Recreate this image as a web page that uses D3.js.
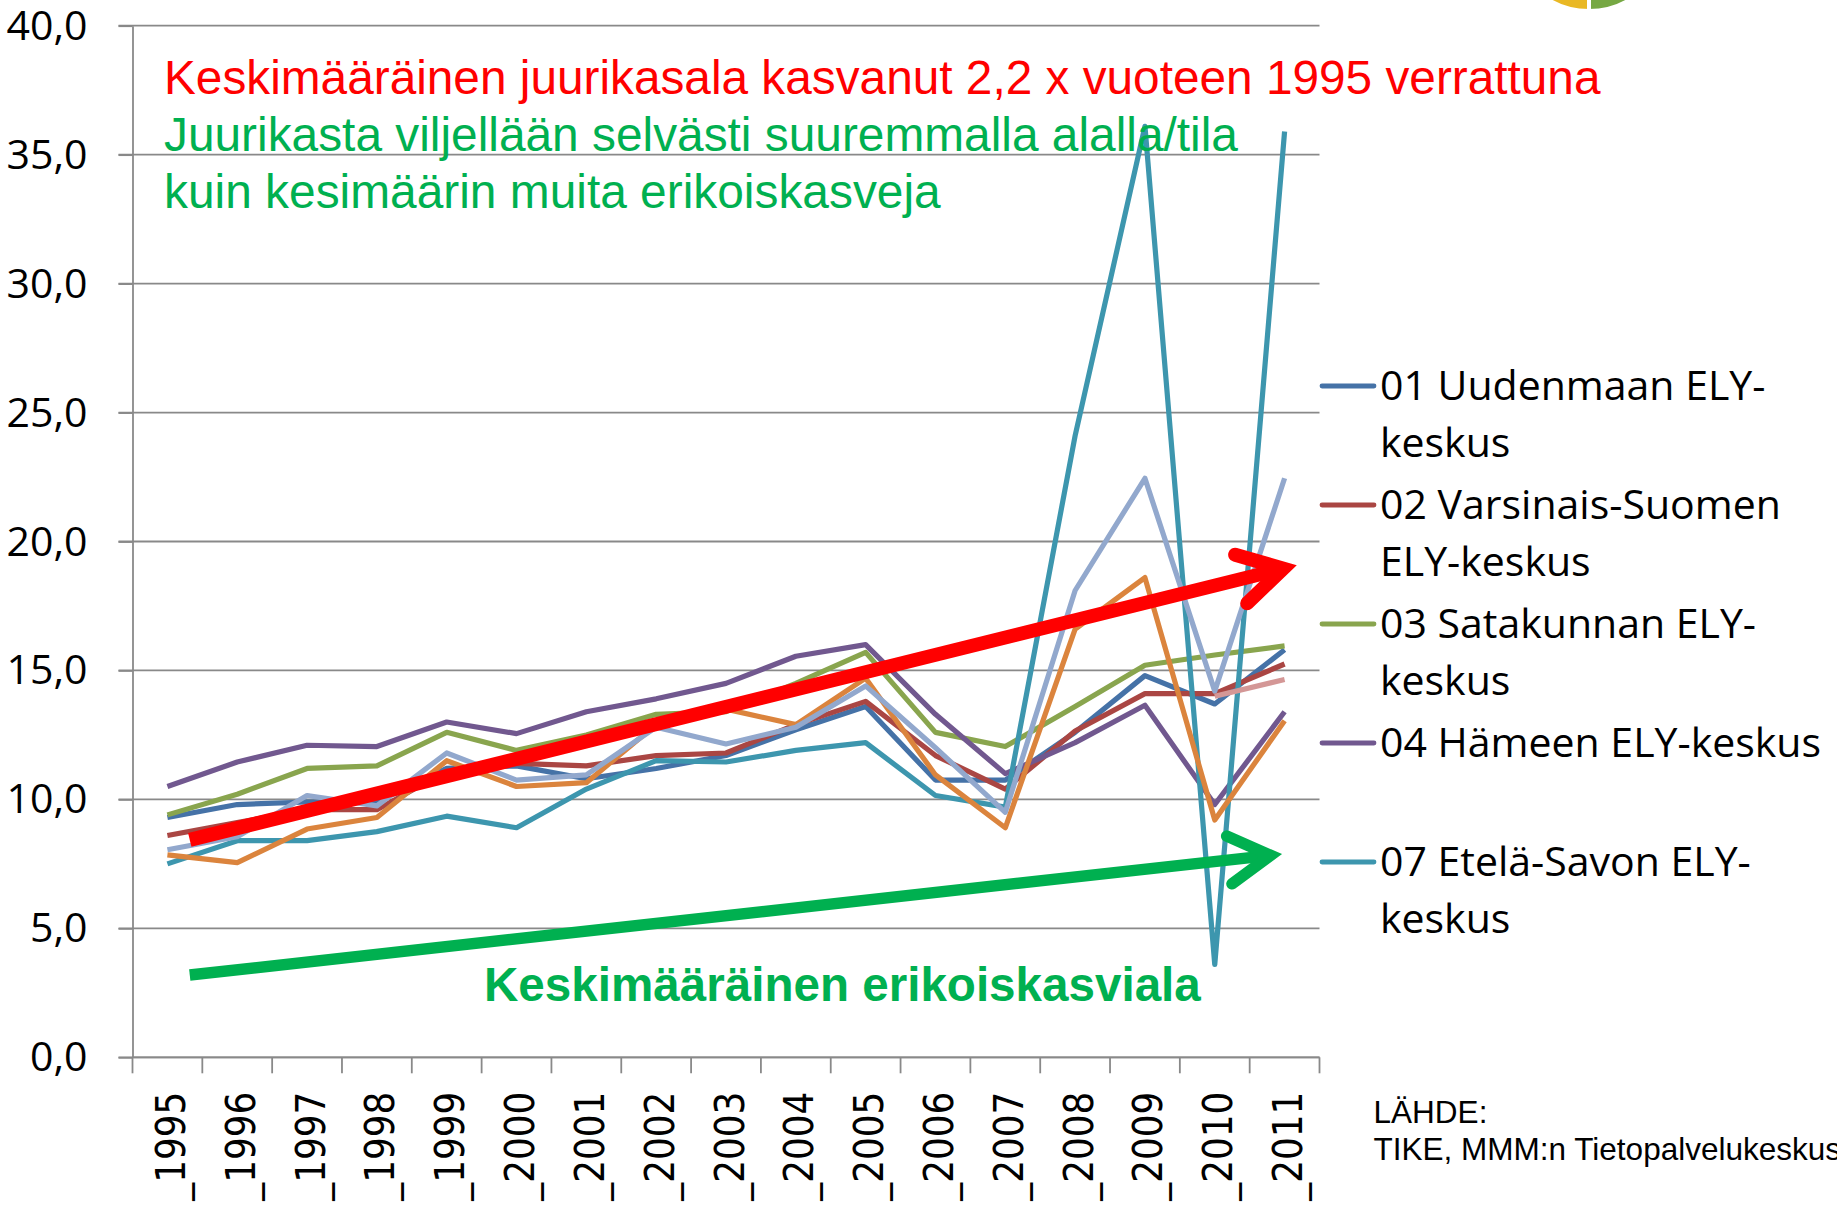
<!DOCTYPE html>
<html>
<head>
<meta charset="utf-8">
<script src="https://cdn.jsdelivr.net/npm/d3@7"></script>
<style>
  body { margin: 0; background: #fff; }
  svg { display: block; }
</style>
</head>
<body>
<div id="chart"></div>
<script>
/* Categories. */
const years = ["1995", "1996", "1997", "1998", "1999", "2000", "2001", "2002", "2003",
  "2004", "2005", "2006", "2007", "2008", "2009", "2010", "2011"]

/* Series values, ha per farm. */
const uusimaa = [9.3, 9.8, 9.9, 9.9, 11.2, 11.3, 10.8, 11.2, 11.7, 12.7, 13.6, 10.75, 10.75, 12.6, 14.8, 13.7, 15.8]
const varsinaisSuomi = [8.6, 9.1, 9.6, 9.6, 11.1, 11.4, 11.3, 11.7, 11.8, 12.9, 13.8, 11.7, 10.4, 12.65, 14.1, 14.1, 15.25]
const satakunta = [9.4, 10.2, 11.2, 11.3, 12.6, 11.9, 12.5, 13.3, 13.4, 14.5, 15.7, 12.6, 12.05, 13.6, 15.2, 15.6, 15.95]
const hame = [10.5, 11.45, 12.1, 12.05, 13.0, 12.55, 13.4, 13.9, 14.5, 15.55, 16.0, 13.3, 11.0, 12.2, 13.65, 9.8, 13.4]
const etelaSavo = [7.5, 8.4, 8.4, 8.75, 9.35, 8.9, 10.4, 11.5, 11.45, 11.9, 12.2, 10.15, 9.7, 24.1, 36.1, 3.6, 35.9]
const sarjaOranssi = [7.85, 7.55, 8.85, 9.3, 11.5, 10.5, 10.65, 12.9, 13.5, 12.9, 14.7, 10.95, 8.9, 16.6, 18.6, 9.2, 13.05]
const sarjaVaaleansininen = [8.05, 8.55, 10.15, 9.75, 11.8, 10.75, 10.95, 12.8, 12.15, 12.8, 14.4, 12.0, 9.5, 18.1, 22.45, 14.2, 22.45]
const sarjaRoosa = [null, null, null, null, null, null, null, null, null, null, null, null, null, null, null, 14.0, 14.65]

/* Y tick values. */
const yTicks = [0, 5, 10, 15, 20, 25, 30, 35, 40]

/* Legend labels (two rows where the original wraps). */
const legendItems = [
  { lines: ["01 Uudenmaan ELY-", "keskus"], color: "#4572A7" },
  { lines: ["02 Varsinais-Suomen", "ELY-keskus"], color: "#AA4643" },
  { lines: ["03 Satakunnan ELY-", "keskus"], color: "#89A54E" },
  { lines: ["04 Hämeen ELY-keskus"], color: "#71588F" },
  { lines: ["07 Etelä-Savon ELY-", "keskus"], color: "#3D96AE" }
]

/* Series, in drawing order. */
const series = [
  { values: uusimaa, color: "#4572A7" },
  { values: varsinaisSuomi, color: "#AA4643" },
  { values: satakunta, color: "#89A54E" },
  { values: hame, color: "#71588F" },
  { values: etelaSavo, color: "#3D96AE" },
  { values: sarjaOranssi, color: "#DB843D" },
  { values: sarjaVaaleansininen, color: "#92A8CD" },
  { values: sarjaRoosa, color: "#D49796" }
]

/* Trend arrows in data space: [category index, value]. */
const juurikasArrow = [[0.32, 8.43], [15.98, 18.95]]
const erikoisArrow = [[0.32, 3.19], [15.8, 7.83]]

/* Define svg-size. */
const width = 1837
const height = 1208

/* Plot area. */
const plotLeft = 132.5
const plotRight = 1319.5
const plotTop = 25.7
const plotBottom = 1057.3

/* Create svg-element. */
const svg = d3.select("#chart")
  .append("svg")
  .attr("width", width)
  .attr("height", height)

svg.append("rect")
  .attr("width", width)
  .attr("height", height)
  .attr("fill", "#fff")

/* Define scales. */
const x = d3.scaleBand()
  .domain(years)
  .range([plotLeft, plotRight])
  .padding(0)

const y = d3.scaleLinear()
  .domain([0, 40])
  .range([plotBottom, plotTop])

const xIndex = (i) => x(years[0]) + x.bandwidth() / 2 + i * x.step()

/* Gridlines. */
svg.append("g")
  .selectAll("line")
  .data(yTicks)
  .enter()
  .append("line")
  .attr("x1", plotLeft - 14)
  .attr("x2", plotRight)
  .attr("y1", d => y(d))
  .attr("y2", d => y(d))
  .attr("stroke", "#898989")
  .attr("stroke-width", 1.8)

/* Y axis. */
const yAxis = svg.append("g")
  .attr("transform", `translate(${plotLeft},0)`)
  .call(d3.axisLeft(y)
    .tickValues(yTicks)
    .tickSize(14)
    .tickSizeOuter(0)
    .tickPadding(31)
    .tickFormat(d => d3.format(".1f")(d).replace(".", ",")))

yAxis.select(".domain").attr("stroke", "#898989").attr("stroke-width", 1.8)
yAxis.selectAll(".tick line").attr("stroke", "#898989").attr("stroke-width", 1.8)
yAxis.selectAll(".tick text")
  .attr("font-family", "'Open Sans', sans-serif")
  .attr("font-size", 41)
  .attr("dy", "0.33em")
  .attr("fill", "#000")

/* X axis line and ticks between categories. */
const xAxis = svg.append("g")

xAxis.append("line")
  .attr("x1", plotLeft)
  .attr("x2", plotRight)
  .attr("y1", plotBottom)
  .attr("y2", plotBottom)
  .attr("stroke", "#898989")
  .attr("stroke-width", 1.8)

xAxis.selectAll(".xtick")
  .data(years.concat(["end"]))
  .enter()
  .append("line")
  .attr("class", "xtick")
  .attr("x1", (d, i) => plotLeft + i * x.step())
  .attr("x2", (d, i) => plotLeft + i * x.step())
  .attr("y1", plotBottom)
  .attr("y2", plotBottom + 16)
  .attr("stroke", "#898989")
  .attr("stroke-width", 1.8)

xAxis.selectAll(".xlabel")
  .data(years)
  .enter()
  .append("text")
  .attr("class", "xlabel")
  .attr("transform", d => `translate(${x(d) + x.bandwidth() / 2 + 17.5},${1091.7}) rotate(-90)`)
  .attr("text-anchor", "end")
  .attr("font-family", "'DejaVu Sans', sans-serif")
  .attr("font-size", 41)
  .attr("textLength", 109)
  .attr("lengthAdjust", "spacingAndGlyphs")
  .attr("fill", "#000")
  .text(d => "_" + d)

/* Define line. */
const line = d3.line()
  .defined(d => d != null)
  .x((d, i) => x(years[i]) + x.bandwidth() / 2)
  .y(d => y(d))

/* Draw series. */
svg.append("g")
  .selectAll("path")
  .data(series)
  .enter()
  .append("path")
  .attr("d", d => line(d.values))
  .attr("fill", "none")
  .attr("stroke", d => d.color)
  .attr("stroke-width", 5.2)
  .attr("stroke-linejoin", "round")

/* Legend. */
const legend = svg.append("g")

legendItems.forEach((item, i) => {
  const ly = 386 + i * 119
  legend.append("line")
    .attr("x1", 1322)
    .attr("x2", 1374)
    .attr("y1", ly)
    .attr("y2", ly)
    .attr("stroke", item.color)
    .attr("stroke-width", 4.8)
    .attr("stroke-linecap", "round")
  item.lines.forEach((txt, j) => {
    legend.append("text")
      .attr("x", 1380)
      .attr("y", ly + 14 + j * 56.7)
      .attr("font-family", "'Open Sans', sans-serif")
      .attr("font-size", 41)
      .attr("fill", "#000")
      .text(txt)
  })
})

/* Fit a text element to a measured width. */
const fitText = (sel, target) => {
  const w = sel.node().getComputedTextLength()
  const fs = parseFloat(sel.attr("font-size"))
  sel.attr("font-size", fs * target / w)
}

/* Headline texts. */
const redText = svg.append("text")
  .attr("x", 164)
  .attr("y", 94)
  .attr("font-family", "'Liberation Sans', Arial, sans-serif")
  .attr("font-size", 46)
  .attr("fill", "#FF0000")
  .text("Keskimääräinen juurikasala kasvanut 2,2 x vuoteen 1995 verrattuna")
fitText(redText, 1437)

const greenText1 = svg.append("text")
  .attr("x", 164)
  .attr("y", 151)
  .attr("font-family", "'Liberation Sans', Arial, sans-serif")
  .attr("font-size", 46)
  .attr("fill", "#00B050")
  .text("Juurikasta viljellään selvästi suuremmalla alalla/tila")
fitText(greenText1, 1074)

const greenText2 = svg.append("text")
  .attr("x", 164)
  .attr("y", 208)
  .attr("font-family", "'Liberation Sans', Arial, sans-serif")
  .attr("font-size", 46)
  .attr("fill", "#00B050")
  .text("kuin kesimäärin muita erikoiskasveja")
fitText(greenText2, 777)

const boldText = svg.append("text")
  .attr("x", 484)
  .attr("y", 1000.7)
  .attr("font-family", "'Liberation Sans', Arial, sans-serif")
  .attr("font-weight", "bold")
  .attr("font-size", 45)
  .attr("fill", "#00B050")
  .text("Keskimääräinen erikoiskasviala")
fitText(boldText, 717)

/* Define drawArrow. */
const drawArrow = (pts, color, strokeW, armLen) => {
  const [p0, p1] = pts.map(p => [xIndex(p[0]), y(p[1])])
  const ang = Math.atan2(p1[1] - p0[1], p1[0] - p0[0])
  const spread = Math.PI / 6
  const a1 = [p1[0] - armLen * Math.cos(ang - spread), p1[1] - armLen * Math.sin(ang - spread)]
  const a2 = [p1[0] - armLen * Math.cos(ang + spread), p1[1] - armLen * Math.sin(ang + spread)]
  svg.append("line")
    .attr("x1", p0[0]).attr("y1", p0[1])
    .attr("x2", p1[0]).attr("y2", p1[1])
    .attr("stroke", color)
    .attr("stroke-width", strokeW)
  svg.append("path")
    .attr("d", d3.line()([a1, p1, a2]))
    .attr("fill", "none")
    .attr("stroke", color)
    .attr("stroke-width", strokeW)
    .attr("stroke-linejoin", "miter")
    .attr("stroke-linecap", "round")
}

drawArrow(juurikasArrow, "#FF0000", 14, 50)
drawArrow(erikoisArrow, "#00B050", 11.5, 48)

/* Source. */
svg.append("text")
  .attr("x", 1373.6)
  .attr("y", 1123)
  .attr("font-family", "'Liberation Sans', Arial, sans-serif")
  .attr("font-size", 31.5)
  .attr("fill", "#000")
  .text("LÄHDE:")

svg.append("text")
  .attr("x", 1373.6)
  .attr("y", 1160)
  .attr("font-family", "'Liberation Sans', Arial, sans-serif")
  .attr("font-size", 31.5)
  .attr("fill", "#000")
  .text("TIKE, MMM:n Tietopalvelukeskus")

/* Logo fragment at the top edge. */
const logoArc = d3.arc().innerRadius(0).outerRadius(78)
const logo = svg.append("g").attr("transform", "translate(1589,-67)")
logo.append("path")
  .attr("d", logoArc({ startAngle: Math.PI / 2, endAngle: Math.PI }))
  .attr("fill", "#76A843")
  .attr("stroke", "#fff")
  .attr("stroke-width", 4)
logo.append("path")
  .attr("d", logoArc({ startAngle: Math.PI, endAngle: Math.PI * 1.5 }))
  .attr("fill", "#E9B824")
  .attr("stroke", "#fff")
  .attr("stroke-width", 4)
</script>
</body>
</html>
